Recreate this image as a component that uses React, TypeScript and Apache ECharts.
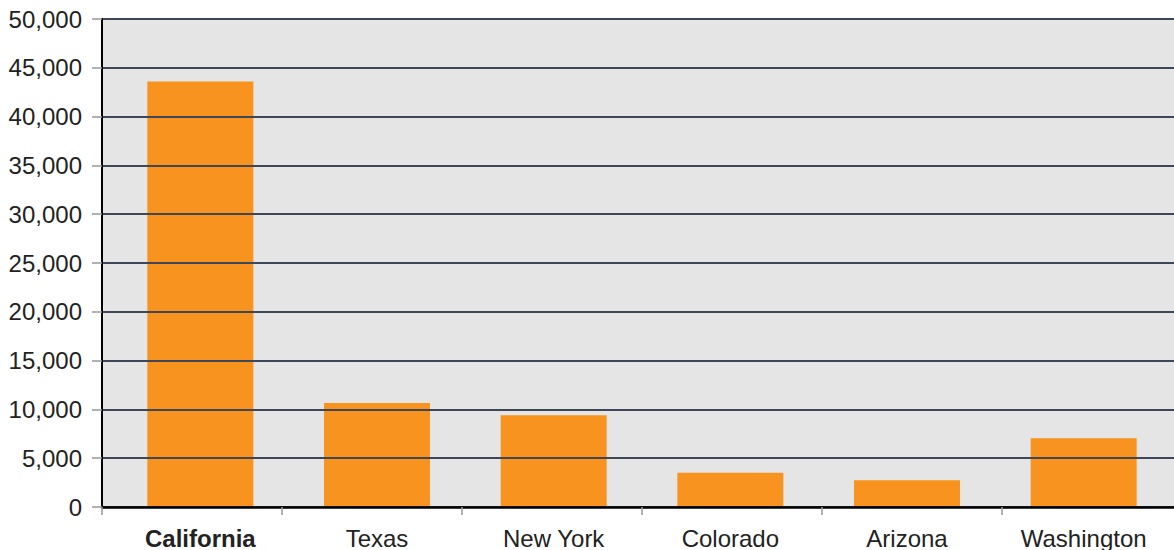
import React, { useEffect, useRef } from "react";
import * as echarts from "echarts";

const categories = ["California", "Texas", "New York", "Colorado", "Arizona", "Washington"];
const values = [43600, 10650, 9400, 3500, 2750, 7050];
const yMin = 0;
const yMax = 50000;
const yInterval = 5000;

const FONT = "'Liberation Sans', Arial, sans-serif";

export default function App() {
  const ref = useRef<HTMLDivElement>(null);
  useEffect(() => {
    if (!ref.current) return;
    const chart = echarts.init(ref.current, undefined, { renderer: "svg" });
    chart.setOption({
      animation: false,
      textStyle: { fontFamily: FONT },
      grid: [
        { left: 102, top: 19, width: 1080, bottom: 43, show: true, backgroundColor: "#e5e5e5", borderWidth: 0 },
        { left: 112, top: 19, width: 1060, bottom: 43, show: false },
      ],
      xAxis: [
        {
          type: "category",
          gridIndex: 0,
          data: categories,
          axisLine: { show: true, lineStyle: { color: "#000", width: 2.5 } },
          axisTick: { show: true, length: 8, lineStyle: { color: "#999", width: 1.5 } },
          axisLabel: { show: false },
          z: 5,
        },
        {
          type: "category",
          gridIndex: 1,
          data: categories,
          axisLine: { show: false },
          axisTick: { show: false },
          axisLabel: {
            show: true,
            interval: 0,
            margin: 19,
            fontSize: 24,
            color: "#222",
            fontFamily: FONT,
            formatter: (v: string, i: number) => (i === 0 ? "{b|" + v + "}" : "{n|" + v + "}"),
            rich: {
              b: { fontWeight: "bold", fontSize: 24, color: "#222", fontFamily: FONT },
              n: { fontSize: 24, color: "#222", fontFamily: FONT },
            },
          },
        },
      ],
      yAxis: [
        {
          type: "value",
          gridIndex: 0,
          min: yMin,
          max: yMax,
          interval: yInterval,
          axisLine: { show: true, lineStyle: { color: "#000", width: 2 } },
          axisTick: { show: true, length: 10, lineStyle: { color: "#999", width: 1.5 } },
          axisLabel: {
            margin: 20,
            fontSize: 24,
            color: "#222",
            fontFamily: FONT,
            formatter: (v: number) => v.toLocaleString("en-US"),
          },
          splitLine: { show: true, lineStyle: { color: "#3d4757", width: 2 } },
          z: 5,
        },
        {
          type: "value",
          gridIndex: 1,
          min: yMin,
          max: yMax,
          interval: yInterval,
          show: false,
          splitLine: { show: false },
        },
      ],
      series: [
        {
          type: "bar",
          xAxisIndex: 1,
          yAxisIndex: 1,
          data: values,
          barWidth: "60%",
          itemStyle: { color: "#f7931e" },
          z: 3,
        },
      ],
    });
    return () => chart.dispose();
  }, []);
  return (
    <div style={{ position: "absolute", left: 0, top: 0, width: 1174, height: 550, overflow: "hidden" }}>
      <div ref={ref} style={{ position: "absolute", left: 0, top: 0, width: 1190, height: 550 }} />
    </div>
  );
}
